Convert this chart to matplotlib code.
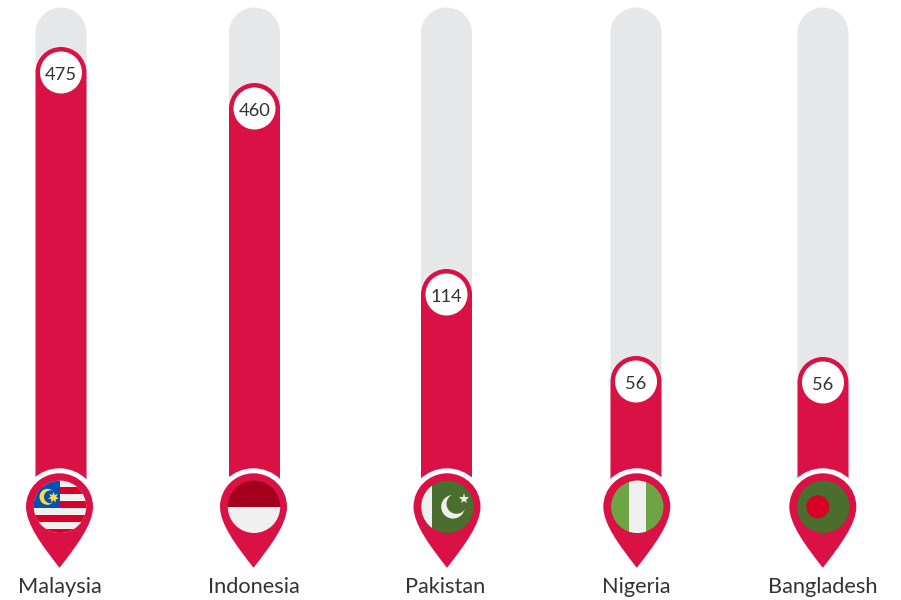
import matplotlib
matplotlib.use("Agg")
import matplotlib.pyplot as plt
from matplotlib.patches import Circle, PathPatch, Rectangle
from matplotlib.path import Path

countries = ["Malaysia", "Indonesia", "Pakistan", "Nigeria", "Bangladesh"]
values = [475, 460, 114, 56, 56]
# the bars are not to scale in the original, so heights are read off the picture
bar_heights = [433, 397, 211, 124, 123]

bar_x = [61, 254.5, 446.5, 636, 823]
pin_x = [59.5, 253.5, 447, 636.8, 822.8]
label_x = [60, 254, 445, 636, 823]

RED = "#D91145"
GREY = "#E6E7E8"
TEXT = "#333333"
FLAG_RED = "#D80027"
FLAG_WHITE = "#F0F0F0"
FLAG_GREEN = "#496E2D"

BASE = 480
TRACK_TOP = 7.5
BAR_W = 51
PIN_Y = 506.8
PIN_R = 33.5
TIP = 61
FLAG_R = 26.2

plt.rcParams["font.family"] = ["Lato", "DejaVu Sans"]

fig = plt.figure(figsize=(9.01, 6), dpi=100)
ax = fig.add_axes([0, 0, 1, 1])
ax.set_xlim(0, 901)
ax.set_ylim(600, 0)
ax.axis("off")


def pill(x, top, bottom, color):
    r = BAR_W / 2
    k = 0.5523 * r
    y = top + r
    verts = [
        (x - r, bottom),
        (x - r, y),
        (x - r, y - k), (x - k, top), (x, top),
        (x + k, top), (x + r, y - k), (x + r, y),
        (x + r, bottom),
        (x - r, bottom),
    ]
    codes = [Path.MOVETO, Path.LINETO] + [Path.CURVE4] * 6 + [Path.LINETO, Path.CLOSEPOLY]
    ax.add_patch(PathPatch(Path(verts, codes), facecolor=color, lw=0))


def pin(x):
    r = PIN_R
    k = 0.5523 * r
    y = PIN_Y
    verts = [
        (x + r, y),
        (x + r, y - k), (x + k, y - r), (x, y - r),
        (x - k, y - r), (x - r, y - k), (x - r, y),
        (x - r, y + 17), (x - 18, y + 38), (x, y + TIP),
        (x + 18, y + 38), (x + r, y + 17), (x + r, y),
        (x + r, y),
    ]
    codes = [Path.MOVETO] + [Path.CURVE4] * 12 + [Path.CLOSEPOLY]
    ax.add_patch(PathPatch(Path(verts, codes), facecolor=RED, lw=0))


def rect(x0, y0, x1, y1, color, clip):
    p = Rectangle((x0, y0), x1 - x0, y1 - y0, facecolor=color, lw=0, zorder=6)
    ax.add_patch(p)
    p.set_clip_path(clip)


def flag_malaysia(x, y, clip):
    rect(x - 30, y - 30, x + 30, y + 30, FLAG_WHITE, clip)
    for dy in [-20, -6, 8, 22]:
        rect(x - 30, y + dy, x + 30, y + dy + 7, FLAG_RED, clip)
    rect(x - 30, y - 30, x, y + 1, "#0052B4", clip)
    ax.add_patch(Circle((x - 12.5, y - 10), 8, color="#FFDA44", lw=0, zorder=7))
    ax.add_patch(Circle((x - 9.5, y - 10), 6.5, color="#0052B4", lw=0, zorder=7))
    ax.plot(x - 7.5, y - 9.5, marker=(7, 1, 0), ms=8, color="#FFDA44", mew=0, zorder=8)


def flag_indonesia(x, y, clip):
    rect(x - 30, y - 30, x + 30, y, "#A2001D", clip)
    rect(x - 30, y, x + 30, y + 30, FLAG_WHITE, clip)


def flag_pakistan(x, y, clip):
    rect(x - 30, y - 30, x + 30, y + 30, FLAG_GREEN, clip)
    rect(x - 30, y - 30, x - 15.5, y + 30, FLAG_WHITE, clip)
    ax.add_patch(Circle((x + 5.5, y + 0), 11.8, color=FLAG_WHITE, lw=0, zorder=7))
    ax.add_patch(Circle((x + 9, y - 3), 10, color=FLAG_GREEN, lw=0, zorder=7))
    ax.plot(x + 16, y - 7.5, marker="*", ms=8, color=FLAG_WHITE, mew=0, zorder=8)


def flag_nigeria(x, y, clip):
    rect(x - 30, y - 30, x + 30, y + 30, "#6DA544", clip)
    rect(x - 8.8, y - 30, x + 9, y + 30, FLAG_WHITE, clip)


def flag_bangladesh(x, y, clip):
    rect(x - 30, y - 30, x + 30, y + 30, FLAG_GREEN, clip)
    ax.add_patch(Circle((x - 5.5, y), 11.5, color=FLAG_RED, lw=0, zorder=7))


flags = [flag_malaysia, flag_indonesia, flag_pakistan, flag_nigeria, flag_bangladesh]

for i in range(len(countries)):
    x = bar_x[i]
    px = pin_x[i]
    top = BASE - bar_heights[i]
    pill(x, TRACK_TOP, BASE + 10, GREY)
    pill(x, top, BASE + 10, RED)
    ax.add_patch(Circle((x, top + BAR_W / 2), 21, color="white", lw=0))
    ax.text(x, top + BAR_W / 2 + 0.7, str(values[i]), ha="center", va="center_baseline",
            fontsize=13.2, color=TEXT)

    # white ring cuts the bar end above the pin
    ax.add_patch(Circle((px, PIN_Y), 38.5, color="white", lw=0))
    pin(px)
    clip = Circle((px + 0.5, PIN_Y), FLAG_R, transform=ax.transData)
    flags[i](px + 0.5, PIN_Y, clip)

    ax.text(label_x[i], 587, countries[i], ha="center", va="center",
            fontsize=15.7, color=TEXT)

fig.savefig("out.png", dpi=100)
